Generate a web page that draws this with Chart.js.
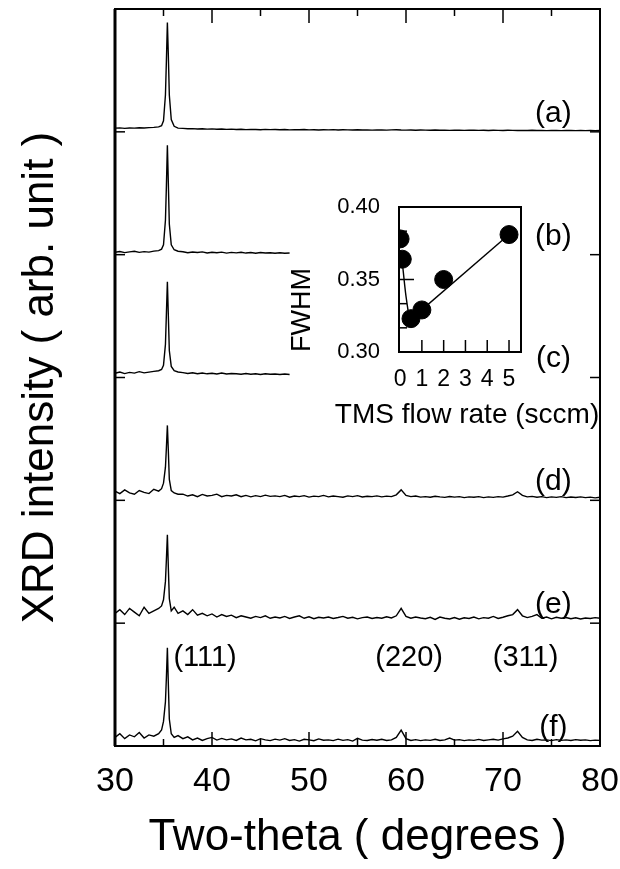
<!DOCTYPE html>
<html>
<head>
<meta charset="utf-8">
<script src="https://cdn.jsdelivr.net/npm/chart.js@4/dist/chart.umd.min.js"></script>
<style>
  html, body { margin: 0; padding: 0; background: #fff; }
  #wrap { position: relative; width: 620px; height: 869px; }
  #wrap canvas { position: absolute; left: 0; top: 0; }
</style>
</head>
<body>
<div id="wrap">
  <canvas id="xrdChart" width="620" height="869"></canvas>
  <canvas id="insetChart" width="620" height="869"></canvas>
</div>
<script>
// Ось 2θ (градусы), общая для всех кривых; вокруг пика (111) шаг мельче
const twoTheta = [
  30, 30.5, 31, 31.5, 32, 32.5, 33, 33.5, 34, 34.5,
  34.8, 35.0, 35.2, 35.3, 35.4, 35.5, 35.6, 35.8, 36.1, 36.5,
  37, 37.5, 38, 38.5, 39, 39.5, 40, 40.5, 41, 41.5,
  42, 42.5, 43, 43.5, 44, 44.5, 45, 45.5, 46, 46.5,
  47, 47.5, 48, 48.5, 49, 49.5, 50, 50.5, 51, 51.5,
  52, 52.5, 53, 53.5, 54, 54.5, 55, 55.5, 56, 56.5,
  57, 57.5, 58, 58.5, 59, 59.5, 60, 60.5, 61, 61.5,
  62, 62.5, 63, 63.5, 64, 64.5, 65, 65.5, 66, 66.5,
  67, 67.5, 68, 68.5, 69, 69.5, 70, 70.5, 71, 71.5,
  72, 72.5, 73, 73.5, 74, 74.5, 75, 75.5, 76, 76.5,
  77, 77.5, 78, 78.5, 79, 79.5, 80
];

// Интенсивность над своей базовой линией (отн. ед.)
const traceA = [
  0.030, 0.032, 0.028, 0.031, 0.030, 0.033, 0.031, 0.034, 0.036, 0.040,
  0.05, 0.09, 0.30, 0.58, 0.89, 0.62, 0.30, 0.10, 0.045, 0.030,
  0.028, 0.025, 0.026, 0.023, 0.025, 0.022, 0.024, 0.021, 0.023, 0.020,
  0.022, 0.019, 0.021, 0.018, 0.020, 0.019, 0.017, 0.020, 0.018, 0.019,
  0.017, 0.019, 0.016, 0.018, 0.017, 0.019, 0.016, 0.017, 0.015, 0.017,
  0.016, 0.018, 0.015, 0.017, 0.016, 0.015, 0.017, 0.015, 0.016, 0.014,
  0.016, 0.015, 0.014, 0.016, 0.017, 0.015, 0.014, 0.015, 0.013, 0.015,
  0.014, 0.013, 0.015, 0.013, 0.014, 0.012, 0.014, 0.013, 0.012, 0.014,
  0.013, 0.012, 0.013, 0.011, 0.013, 0.012, 0.011, 0.013, 0.012, 0.011,
  0.012, 0.011, 0.013, 0.011, 0.012, 0.010, 0.012, 0.011, 0.010, 0.012,
  0.011, 0.010, 0.011, 0.010, 0.011, 0.010, 0.011
];
// (b) и (c) записаны только до 48°
const traceB = [
  0.020, 0.026, 0.017, 0.023, 0.028, 0.019, 0.025, 0.021, 0.029, 0.033,
  0.045, 0.08, 0.28, 0.56, 0.89, 0.58, 0.25, 0.08, 0.040, 0.028,
  0.024, 0.016, 0.022, 0.018, 0.023, 0.014, 0.020, 0.016, 0.021, 0.013,
  0.019, 0.015, 0.020, 0.013, 0.017, 0.012, 0.018, 0.014, 0.016, 0.012,
  0.015, 0.011, 0.014
];
const traceC = [
  0.035, 0.045, 0.032, 0.042, 0.036, 0.048, 0.038, 0.044, 0.050, 0.055,
  0.065, 0.10, 0.27, 0.52, 0.78, 0.50, 0.22, 0.09, 0.055, 0.045,
  0.040, 0.033, 0.038, 0.031, 0.037, 0.030, 0.035, 0.029, 0.036, 0.028,
  0.033, 0.030, 0.026, 0.032, 0.027, 0.031, 0.025, 0.030, 0.026, 0.029,
  0.024, 0.028, 0.025
];
const traceD = [
  0.075, 0.055, 0.085, 0.060, 0.050, 0.080, 0.065, 0.055, 0.090, 0.075,
  0.095, 0.14, 0.27, 0.43, 0.61, 0.40, 0.17, 0.08, 0.060, 0.050,
  0.050, 0.035, 0.045, 0.030, 0.048, 0.035, 0.040, 0.050, 0.030, 0.040,
  0.035, 0.045, 0.030, 0.040, 0.028, 0.038, 0.030, 0.042, 0.032, 0.036,
  0.030, 0.040, 0.025, 0.035, 0.030, 0.038, 0.026, 0.034, 0.030, 0.040,
  0.028, 0.035, 0.030, 0.025, 0.036, 0.030, 0.038, 0.027, 0.033, 0.030,
  0.036, 0.028, 0.034, 0.030, 0.045, 0.085, 0.040, 0.030, 0.035, 0.026,
  0.030, 0.025, 0.033, 0.028, 0.024, 0.031, 0.026, 0.030, 0.022, 0.028,
  0.025, 0.030, 0.022, 0.028, 0.024, 0.030, 0.026, 0.035, 0.045, 0.070,
  0.040, 0.028, 0.032, 0.025, 0.030, 0.022, 0.028, 0.024, 0.030, 0.022,
  0.027, 0.023, 0.028, 0.022, 0.026, 0.020, 0.025
];
const traceE = [
  0.080, 0.110, 0.070, 0.120, 0.090, 0.060, 0.130, 0.080, 0.100, 0.120,
  0.14, 0.19, 0.34, 0.52, 0.72, 0.45, 0.20, 0.10, 0.130, 0.080,
  0.100, 0.070, 0.110, 0.065, 0.080, 0.060, 0.075, 0.050, 0.070, 0.055,
  0.065, 0.045, 0.060, 0.050, 0.040, 0.055, 0.045, 0.060, 0.040, 0.050,
  0.042, 0.055, 0.038, 0.050, 0.060, 0.040, 0.052, 0.036, 0.048, 0.042,
  0.050, 0.038, 0.046, 0.055, 0.040, 0.048, 0.035, 0.045, 0.050, 0.038,
  0.046, 0.040, 0.052, 0.042, 0.060, 0.120, 0.055, 0.040, 0.050, 0.042,
  0.036, 0.048, 0.030, 0.050, 0.040, 0.034, 0.046, 0.032, 0.044, 0.038,
  0.050, 0.035, 0.045, 0.040, 0.055, 0.038, 0.048, 0.060, 0.070, 0.110,
  0.060, 0.045, 0.055, 0.070, 0.040, 0.050, 0.035, 0.048, 0.040, 0.046,
  0.036, 0.044, 0.034, 0.042, 0.038, 0.045, 0.040
];
const traceF = [
  0.070, 0.100, 0.060, 0.090, 0.075, 0.110, 0.065, 0.090, 0.080, 0.100,
  0.13, 0.20, 0.36, 0.56, 0.80, 0.50, 0.22, 0.10, 0.070, 0.085,
  0.060, 0.075, 0.050, 0.065, 0.045, 0.060, 0.070, 0.048, 0.062, 0.050,
  0.058, 0.045, 0.065, 0.050, 0.055, 0.042, 0.060, 0.050, 0.044, 0.056,
  0.048, 0.060, 0.045, 0.052, 0.040, 0.055, 0.050, 0.043, 0.058, 0.047,
  0.050, 0.044, 0.056, 0.046, 0.052, 0.040, 0.062, 0.048, 0.045, 0.053,
  0.047, 0.055, 0.045, 0.050, 0.070, 0.130, 0.060, 0.045, 0.052, 0.044,
  0.050, 0.046, 0.055, 0.045, 0.050, 0.065, 0.048, 0.052, 0.044, 0.050,
  0.046, 0.054, 0.045, 0.050, 0.055, 0.048, 0.058, 0.065, 0.080, 0.120,
  0.070, 0.050, 0.045, 0.055, 0.048, 0.050, 0.044, 0.052, 0.046, 0.050,
  0.045, 0.052, 0.047, 0.050, 0.044, 0.048, 0.046
];

const traces = [traceA, traceB, traceC, traceD, traceE, traceF];
const traceNames = ['(a)', '(b)', '(c)', '(d)', '(e)', '(f)'];
const traceOffsets = [5, 4, 3, 2, 1, 0];   // сдвиг кривых по вертикали

// Рефлексы 3C-SiC
const peakNames = ['(111)', '(220)', '(311)'];
const peakPositions = [35.4, 59.5, 71.5];

// Вставка: ширина пика (111) от расхода TMS
const tmsFlow = [0, 0.1, 0.5, 1, 2, 5];
const fwhm = [0.378, 0.364, 0.323, 0.329, 0.350, 0.381];
const fitLowX = [0.1, 0.25, 0.42];
const fitLowY = [0.362, 0.341, 0.323];
const fitHighX = [0.45, 5];
const fitHighY = [0.322, 0.381];

const FONT = "'Liberation Sans', Arial, Helvetica, sans-serif";
Chart.defaults.font.family = FONT;
Chart.defaults.color = '#000';

function toPoints(xs, ys) {
  return ys.map((v, i) => ({ x: xs[i], y: v }));
}

function strokeLine(ctx, x1, y1, x2, y2) {
  ctx.beginPath();
  ctx.moveTo(x1, y1);
  ctx.lineTo(x2, y2);
  ctx.stroke();
}

// Рамка и внутренние риски основного графика
const frameTicks = {
  id: 'frameTicks',
  afterDatasetsDraw(chart) {
    const { ctx, chartArea: a, scales: { x, y } } = chart;
    ctx.save();
    ctx.strokeStyle = '#000';
    ctx.lineWidth = 2;
    ctx.strokeRect(a.left, a.top, a.right - a.left, a.bottom - a.top);
    ctx.lineWidth = 3;
    strokeLine(ctx, a.left, a.top, a.left, a.bottom);
    ctx.lineWidth = 1.5;
    for (let v = 35; v < 80; v += 5) {
      const px = x.getPixelForValue(v);
      const len = v % 10 === 0 ? 14 : 7;
      strokeLine(ctx, px, a.top, px, a.top + len);
      strokeLine(ctx, px, a.bottom, px, a.bottom - len);
    }
    for (let v = 1; v < 6; v++) {
      const py = y.getPixelForValue(v);
      strokeLine(ctx, a.left, py, a.left + 10, py);
      strokeLine(ctx, a.right - 10, py, a.right, py);
    }
    ctx.restore();
  }
};

// Подписи кривых и рефлексов
const traceLabels = {
  id: 'traceLabels',
  afterDatasetsDraw(chart) {
    const { ctx, scales: { x, y } } = chart;
    ctx.save();
    ctx.fillStyle = '#000';
    ctx.textBaseline = 'middle';
    ctx.textAlign = 'center';
    ctx.font = '30px ' + FONT;
    traceNames.forEach((name, i) => {
      ctx.fillText(name, x.getPixelForValue(75.2), y.getPixelForValue(traceOffsets[i] + 0.15));
    });
    ctx.font = '29px ' + FONT;
    peakNames.forEach((name, i) => {
      const px = x.getPixelForValue(peakPositions[i]);
      const py = y.getPixelForValue(0.72);
      if (i === 0) {
        ctx.textAlign = 'left';
        ctx.fillText(name, px + 6, py);
      } else {
        ctx.textAlign = 'center';
        ctx.fillText(name, px + 8, py);
      }
    });
    ctx.restore();
  }
};

const datasets = traces.map((tr, i) => ({
  label: traceNames[i],
  data: tr.map((v, j) => ({ x: twoTheta[j], y: traceOffsets[i] + v })),
  borderColor: '#000',
  borderWidth: 1.4,
  pointRadius: 0,
  tension: 0
}));

new Chart(document.getElementById('xrdChart'), {
  type: 'line',
  data: { datasets },
  options: {
    responsive: false,
    animation: false,
    layout: { padding: { left: 0, right: 20, top: 9, bottom: 0 } },
    plugins: { legend: { display: false }, tooltip: { enabled: false } },
    scales: {
      x: {
        type: 'linear', min: 30, max: 80,
        grid: { display: false, drawTicks: false },
        border: { display: false },
        ticks: { stepSize: 10, padding: 15, maxRotation: 0, font: { size: 34 } },
        title: { display: true, text: 'Two-theta ( degrees )', font: { size: 44 }, padding: { top: 0, bottom: 5 } },
        afterFit: s => { s.height = 123; s.paddingLeft = 0; s.paddingRight = 0; }
      },
      y: {
        type: 'linear', min: 0, max: 6,
        grid: { display: false, drawTicks: false },
        border: { display: false },
        ticks: { display: false },
        title: { display: true, text: 'XRD intensity ( arb. unit )', font: { size: 44 }, padding: { top: 14, bottom: 0 } },
        afterFit: s => { s.width = 115; s.paddingTop = 0; s.paddingBottom = 0; }
      }
    }
  },
  plugins: [frameTicks, traceLabels]
});

// Рамка, риски и подпись оси X вставки
const insetFrame = {
  id: 'insetFrame',
  afterDatasetsDraw(chart) {
    const { ctx, chartArea: a, scales: { x, y } } = chart;
    ctx.save();
    ctx.strokeStyle = '#000';
    ctx.lineWidth = 2;
    ctx.strokeRect(a.left, a.top, a.right - a.left, a.bottom - a.top);
    ctx.lineWidth = 1.5;
    x.ticks.forEach(t => {
      if (t.value <= 0) return;
      const px = x.getPixelForValue(t.value);
      strokeLine(ctx, px, a.bottom, px, a.bottom - 12);
    });
    for (let i = 1; i < 6; i++) {
      const py = y.getPixelForValue(0.30 + i * 0.1 / 6);
      strokeLine(ctx, a.left, py, a.left + (i === 3 ? 15 : 8), py);
    }
    ctx.fillStyle = '#000';
    ctx.font = '28px ' + FONT;
    ctx.textAlign = 'center';
    ctx.textBaseline = 'middle';
    ctx.fillText('TMS flow rate (sccm)', (a.left + a.right) / 2 + 7, a.bottom + 63);
    ctx.restore();
  }
};

new Chart(document.getElementById('insetChart'), {
  type: 'scatter',
  data: {
    datasets: [
      { data: toPoints(fitLowX, fitLowY), showLine: true, borderColor: '#000', borderWidth: 1.4, pointRadius: 0, tension: 0.3 },
      { data: toPoints(fitHighX, fitHighY), showLine: true, borderColor: '#000', borderWidth: 1.4, pointRadius: 0 },
      { data: toPoints(tmsFlow, fwhm), pointRadius: 9, pointBackgroundColor: '#000', pointBorderColor: '#000', clip: 0 }
    ]
  },
  options: {
    responsive: false,
    animation: false,
    layout: { padding: { left: 279, right: 99, top: 207, bottom: 432 } },
    plugins: { legend: { display: false }, tooltip: { enabled: false } },
    scales: {
      x: {
        type: 'linear', min: -0.05, max: 5.55,
        grid: { display: false, drawTicks: false },
        border: { display: false },
        ticks: { stepSize: 1, includeBounds: false, autoSkip: false, maxRotation: 0, padding: 14, font: { size: 23 } },
        afterFit: s => { s.height = 85; s.paddingLeft = 0; s.paddingRight = 0; }
      },
      y: {
        type: 'linear', min: 0.3, max: 0.4,
        grid: { display: false, drawTicks: false },
        border: { display: false },
        ticks: { stepSize: 0.05, padding: 19, font: { size: 22 }, callback: v => v.toFixed(2) },
        title: { display: true, text: 'FWHM', align: 'start', font: { size: 27 }, padding: { top: 7, bottom: 0 } },
        afterFit: s => { s.width = 120; s.paddingTop = 0; s.paddingBottom = 0; }
      }
    }
  },
  plugins: [insetFrame]
});
</script>
</body>
</html>
